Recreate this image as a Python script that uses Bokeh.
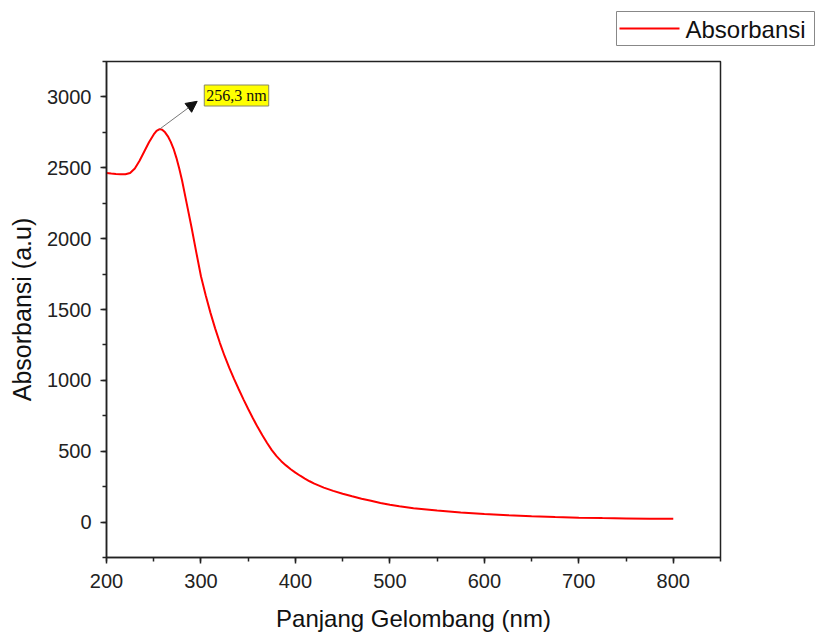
from bokeh.plotting import figure
from bokeh.layouts import column
from bokeh.models import (Range1d, SingleIntervalTicker, Arrow, NormalHead, Label)
from bokeh.core.properties import value
from bokeh.embed import file_html
from bokeh.resources import INLINE

# UV-Vis absorbance spectrum
wavelength_nm = [200, 205, 210, 215, 220, 225, 230, 235, 240, 245, 250, 253, 256.3,
                 259, 262, 265, 268, 271, 274, 277, 280, 285, 290, 295, 300, 305, 310, 315,
                 320, 325, 330, 335, 340, 345, 350, 355, 360, 365, 370, 375, 380, 385,
                 390, 395, 400, 405, 410, 415, 420, 430, 440, 450, 460, 470, 480,
                 490, 500, 510, 525, 550, 575, 600, 625, 650, 675, 700, 725, 750,
                 775, 800]
absorbance = [2463, 2459, 2456, 2454, 2455, 2463, 2495, 2550, 2615, 2680, 2735, 2760, 2773,
              2768, 2750, 2722, 2683, 2634, 2570, 2495, 2410, 2245, 2080, 1905, 1735, 1600, 1478, 1367,
              1265, 1172, 1088, 1010, 937, 866, 798, 733, 670, 612, 558, 508, 465, 430,
              400, 373, 349, 327, 307, 288, 271, 243, 220, 200, 182, 165, 150,
              134, 122, 111, 98, 82, 68, 57, 48, 41, 35, 31, 28, 26,
              24, 23]

peak_nm = 256.3
peak_label = "256,3 nm"
series_name = "Absorbansi"

FONT = "Liberation Sans"
INK = "#222222"
RED = "#ff0000"

# ---- main spectrum plot ----
p = figure(width=818, height=578, output_backend="svg", toolbar_location=None,
           x_range=Range1d(200, 850), y_range=Range1d(-250, 3250),
           min_border_left=106, min_border_right=98, min_border_top=2,
           min_border_bottom=80)
p.frame_align = False
p.grid.visible = False
p.background_fill_color = "white"
p.border_fill_color = "white"
p.outline_line_color = INK
p.outline_line_width = 1.5

p.xaxis.ticker = SingleIntervalTicker(interval=100, num_minor_ticks=2)
p.yaxis.ticker = SingleIntervalTicker(interval=500, num_minor_ticks=2)

for ax in (p.xaxis[0], p.yaxis[0]):
    ax.axis_line_color = INK
    ax.axis_line_width = 1.5
    ax.major_tick_line_color = INK
    ax.minor_tick_line_color = INK
    ax.major_tick_line_width = 1.5
    ax.minor_tick_line_width = 1.5
    ax.major_tick_out = 6
    ax.major_tick_in = 0
    ax.minor_tick_out = 4
    ax.minor_tick_in = 0
    ax.major_label_text_font = FONT
    ax.major_label_text_font_size = "20px"
    ax.major_label_text_color = INK
    ax.axis_label_text_font = FONT
    ax.axis_label_text_font_style = "normal"
    ax.axis_label_text_color = "#111111"

p.xaxis.axis_label = "Panjang Gelombang (nm)"
p.yaxis.axis_label = "Absorbansi (a.u)"
p.xaxis.axis_label_text_font_size = "24px"
p.yaxis.axis_label_text_font_size = "25px"
p.xaxis.major_label_standoff = 10
p.xaxis.axis_label_standoff = 14
p.yaxis.major_label_standoff = 9
p.yaxis.axis_label_standoff = 8

p.line(wavelength_nm, absorbance, line_color=RED, line_width=2)

# peak annotation
peak_value = absorbance[wavelength_nm.index(peak_nm)]
p.add_layout(Arrow(end=NormalHead(size=11, fill_color="#111111", line_color="#111111"),
                   x_start=peak_nm, y_start=peak_value,
                   x_end=296, y_end=2969,
                   line_color="#777777", line_width=1))
p.add_layout(Label(x=303.5, y=3010, text=peak_label, text_font="Liberation Serif",
                   text_font_size="16px", text_color="#111111", text_baseline="middle",
                   background_fill_color="#ffff00", border_line_color="#888866",
                   border_line_width=1, padding=2))

# ---- key strip above the plot (pixel-unit ranges) ----
lg = figure(width=818, height=59, output_backend="svg", toolbar_location=None,
            x_range=Range1d(0, 818), y_range=Range1d(0, 59),
            x_axis_location=None, y_axis_location=None, min_border=0)
lg.frame_align = False
lg.grid.visible = False
lg.outline_line_color = None
lg.border_fill_color = "white"
lg.background_fill_color = "white"
lg.quad(left=[616], right=[814], bottom=[14], top=[48],
        fill_color="white", line_color="#888888", line_width=1)
lg.segment(x0=[619], y0=[31], x1=[679], y1=[31], line_color=RED, line_width=2)
lg.text(x=[685], y=[30], text=[series_name], text_font=value(FONT),
        text_font_size="24px", text_color="#111111", text_baseline="alphabetic")

layout = column(lg, p, spacing=0)
open("out.html", "w").write(file_html(layout, INLINE))
